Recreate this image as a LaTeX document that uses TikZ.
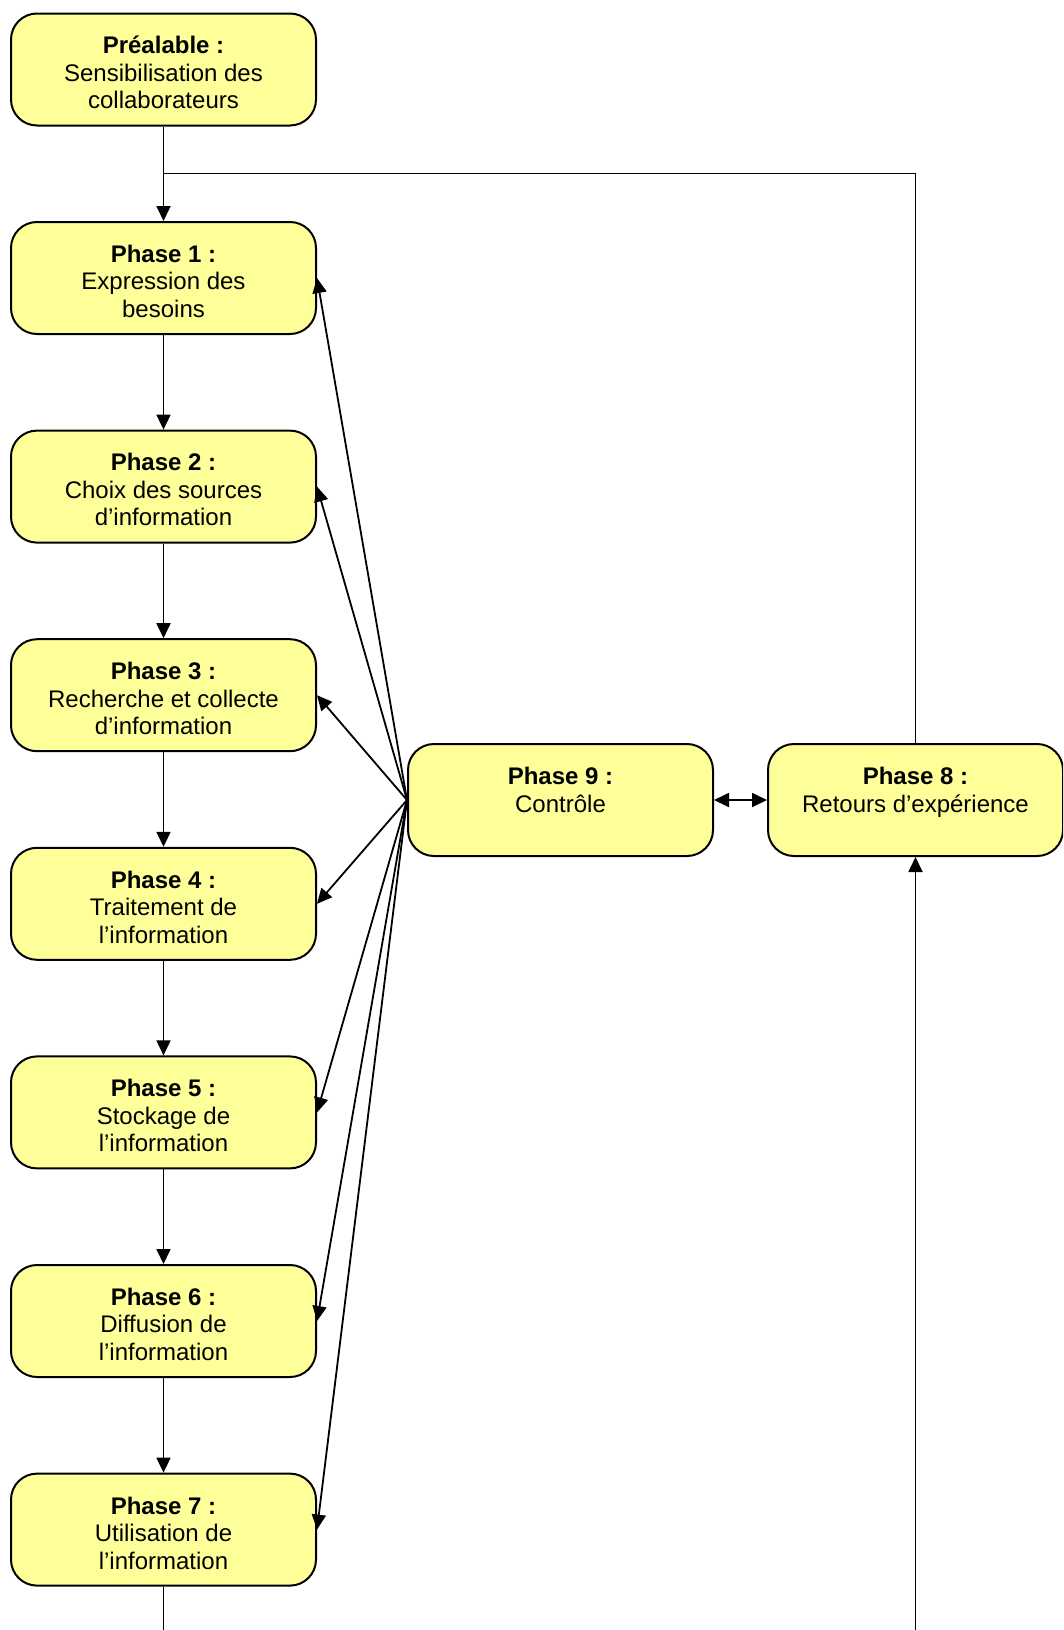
\documentclass[tikz,border=0pt]{standalone}
\usepackage{fontspec}
\setmainfont{Liberation Sans}
\usetikzlibrary{arrows.meta,calc}
\definecolor{boxyellow}{HTML}{FFFF99}
\newcommand\phtitle[1]{\rule{0pt}{24pt}\textbf{#1}}
\begin{document}
\begin{tikzpicture}[x=1pt,y=-1pt,
  phase/.style={draw=black, line width=2pt, fill=boxyellow, rounded corners=26pt,
    minimum width=305pt, minimum height=112pt, inner sep=0pt, align=center,
    font=\fontsize{24}{27.5}\selectfont},
  conn/.style={line width=1.8pt, -{Triangle[length=15pt,width=14pt]}},
  plainline/.style={line width=1.8pt}]
\useasboundingbox (0,0) rectangle (1063,1630);
\clip (0,0) rectangle (1063,1630);
\fill[white] (0,0) rectangle (1063,1630);

\node[phase] (p0) at (163.5,69.5)  {\phtitle{Préalable :}\\Sensibilisation des\\collaborateurs};
\node[phase] (p1) at (163.5,278)   {\phtitle{Phase 1 :}\\Expression des\\besoins};
\node[phase] (p2) at (163.5,486.6) {\phtitle{Phase 2 :}\\Choix des sources\\d’information};
\node[phase] (p3) at (163.5,695.2) {\phtitle{Phase 3 :}\\Recherche et collecte\\d’information};
\node[phase] (p4) at (163.5,903.8) {\phtitle{Phase 4 :}\\Traitement de\\l’information};
\node[phase] (p5) at (163.5,1112.4){\phtitle{Phase 5 :}\\Stockage de\\l’information};
\node[phase] (p6) at (163.5,1321)  {\phtitle{Phase 6 :}\\Diffusion de\\l’information};
\node[phase] (p7) at (163.5,1529.6){\phtitle{Phase 7 :}\\Utilisation de\\l’information};
\node[phase] (p9) at (560.5,800)   {\phtitle{Phase 9 :}\\Contrôle\\\mbox{}};
\node[phase, minimum width=295pt] (p8) at (915.5,800) {\phtitle{Phase 8 :}\\Retours d’expérience\\\mbox{}};

\coordinate (j) at (163.5,173.5);

% main chain
\draw[conn] (p0.south) -- (p1.north);
\draw[conn] (p1.south) -- (p2.north);
\draw[conn] (p2.south) -- (p3.north);
\draw[conn] (p3.south) -- (p4.north);
\draw[conn] (p4.south) -- (p5.north);
\draw[conn] (p5.south) -- (p6.north);
\draw[conn] (p6.south) -- (p7.north);

% feedback from phase 8 to phase 1
\draw[plainline] (p8.north) |- (j);

% phase 7 to phase 8 (runs below the page)
\draw[conn] (p7.south) -- ++(0,80) -| (p8.south);

% phase 9 <-> phase 8
\draw[line width=1.8pt, {Triangle[length=15pt,width=14pt]}-{Triangle[length=15pt,width=14pt]}] (p9.east) -- (p8.west);

% control arrows
\foreach \n in {1,...,7} {
  \draw[conn] (p9.west) -- (p\n.east);
}
\end{tikzpicture}
\end{document}
